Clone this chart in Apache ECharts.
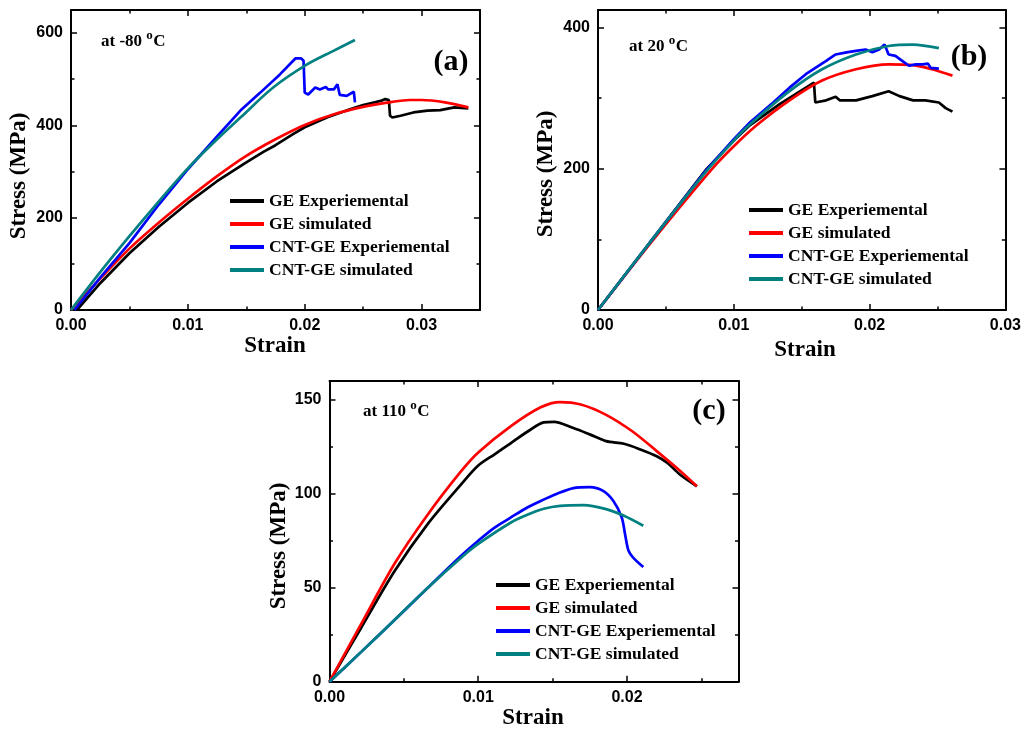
<!DOCTYPE html>
<html>
<head>
<meta charset="utf-8">
<title>Stress-strain curves</title>
<script src="https://cdn.jsdelivr.net/npm/echarts@6.0.0/dist/echarts.min.js"></script>
<style>
html, body { margin: 0; padding: 0; background: #fff; }
#main { width: 1024px; height: 731px; }
</style>
</head>
<body>
<div id="main"></div>
<script>
var names = ['GE Experiemental', 'GE simulated', 'CNT-GE Experiemental', 'CNT-GE simulated'];
var colors = ['#000000', '#ff0000', '#0000ff', '#008080'];

// (a) at -80 oC  -- [strain, stress (MPa)]
var aGeExp = [[0.0005, 0], [0.0025, 58], [0.005, 123], [0.0075, 180], [0.01, 232], [0.0125, 279], [0.015, 320],
    [0.0165, 343], [0.0175, 357], [0.019, 381], [0.02, 396], [0.022, 418], [0.024, 436], [0.025, 444],
    [0.026, 450], [0.0265, 453], [0.0269, 457], [0.0272, 455], [0.0273, 421], [0.0275, 417], [0.0282, 421],
    [0.0293, 428], [0.0305, 432], [0.0316, 433], [0.0328, 439], [0.034, 437]];
var aGeSim = [[0, 0], [0.0025, 68], [0.005, 133], [0.0075, 189], [0.01, 241], [0.0125, 290], [0.015, 334],
    [0.0175, 370], [0.02, 401], [0.0225, 424], [0.025, 440], [0.0275, 451], [0.029, 455], [0.03, 455],
    [0.032, 450], [0.034, 439]];
var aCntExp = [[0.0003, 0], [0.0025, 70], [0.005, 145], [0.0075, 228], [0.01, 305], [0.0125, 376], [0.0145, 432],
    [0.0162, 471], [0.0179, 511], [0.0192, 545], [0.0197, 545], [0.0199, 540], [0.02, 471], [0.0203, 467],
    [0.0209, 482], [0.0213, 478], [0.0218, 483], [0.022, 478], [0.0225, 478], [0.0228, 489], [0.023, 466],
    [0.0236, 464], [0.0242, 473], [0.0243, 450]];
var aCntSim = [[0, 0], [0.0025, 82], [0.005, 160], [0.0075, 235], [0.01, 307], [0.0125, 370], [0.0145, 417],
    [0.0173, 482], [0.0202, 532], [0.0225, 562], [0.0243, 585]];

// (b) at 20 oC
var bGeExp = [[0, 0], [0.004, 100], [0.008, 200], [0.01, 240], [0.0112, 262], [0.0134, 292], [0.0159, 322],
    [0.016, 294], [0.0168, 297], [0.0175, 302], [0.0178, 297], [0.019, 297], [0.0202, 303], [0.0214, 310],
    [0.0222, 303], [0.0232, 297], [0.0241, 297], [0.0251, 294], [0.0256, 286], [0.0261, 281]];
var bGeSim = [[0, 0], [0.004, 98], [0.0084, 200], [0.01, 232], [0.0117, 262], [0.0141, 297], [0.0165, 325],
    [0.019, 341], [0.0214, 348], [0.0232, 347], [0.0246, 341], [0.0261, 332]];
var bCntExp = [[0, 0], [0.004, 100], [0.008, 199], [0.01, 242], [0.0112, 266], [0.0129, 294], [0.0141, 315],
    [0.0153, 334], [0.0168, 353], [0.0175, 362], [0.0183, 365], [0.019, 367], [0.0197, 369], [0.0202, 365],
    [0.0207, 369], [0.0211, 376], [0.0214, 362], [0.0219, 360], [0.0224, 353], [0.0229, 346], [0.0234, 348],
    [0.0239, 348], [0.0243, 349], [0.0245, 343], [0.0251, 342]];
var bCntSim = [[0, 0], [0.004, 100], [0.008, 197], [0.01, 240], [0.0112, 263], [0.0141, 310], [0.0165, 341],
    [0.019, 362], [0.0214, 374], [0.0232, 376], [0.0251, 371]];

// (c) at 110 oC
var cGeExp = [[0, 0], [0.00215, 29], [0.00439, 59], [0.00661, 84], [0.00885, 105], [0.01, 115], [0.0111, 121],
    [0.0122, 127], [0.0133, 133], [0.0144, 138], [0.0151, 138.3], [0.0164, 135], [0.0175, 131.6], [0.0186, 128],
    [0.0198, 126.6], [0.0209, 123.6], [0.022, 120], [0.0227, 116.5], [0.0236, 110], [0.0247, 104]];
var cGeSim = [[0, 0], [0.00215, 31], [0.00439, 63], [0.00661, 89], [0.00885, 112], [0.01, 122], [0.0122, 136],
    [0.0142, 146], [0.0155, 148.8], [0.0169, 147.5], [0.0186, 142], [0.0204, 133], [0.022, 122.7],
    [0.0236, 112], [0.0247, 104]];
var cCntExp = [[0, 0], [0.00215, 16], [0.00439, 33], [0.00661, 50], [0.00885, 67], [0.01, 75], [0.0111, 82],
    [0.0122, 87.4], [0.0133, 92.7], [0.0142, 96.2], [0.0153, 100], [0.0164, 103], [0.0175, 103.5],
    [0.0184, 101.5], [0.0191, 96], [0.01965, 87.4], [0.01987, 78.6], [0.0201, 69.8], [0.0204, 66.2], [0.0211, 61]];
var cCntSim = [[0, 0], [0.00215, 16], [0.00439, 33], [0.00661, 50], [0.00885, 66], [0.01, 73.3], [0.0122, 84.7],
    [0.0133, 88.8], [0.0144, 92], [0.0155, 93.6], [0.0171, 94], [0.0186, 91.8], [0.0198, 88.3], [0.0211, 83]];

var panelData = [
    [aGeExp, aGeSim, aCntExp, aCntSim],
    [bGeExp, bGeSim, bCntExp, bCntSim],
    [cGeExp, cGeSim, cCntExp, cCntSim]
];

// axis ranges
var xMax = [0.035, 0.03, 0.0275];
var yMax = [650, 425, 160];
var yMajor = [200, 200, 50];
var yMinor = [100, 100, 25];
var xShowMax = [false, true, false];
// experimental curves at 110 oC are smooth, the others are jagged
var expSmooth = [false, false, 0.3];

var grids = [
    { left: 71, top: 10, width: 409, height: 300 },
    { left: 598, top: 10, width: 409, height: 300 },
    { left: 329.5, top: 381, width: 409, height: 300.7 }
];

var tickFont = { color: '#000', fontFamily: 'Liberation Sans', fontWeight: 'bold', fontSize: 16 };
var serif = '"Liberation Serif", "Times New Roman", serif';

function axisSet(dim, gi, max, major, minor, showMax) {
    var sides = dim === 'x' ? ['bottom', 'top'] : ['left', 'right'];
    var list = [];
    sides.forEach(function (pos, s) {
        [major, minor].forEach(function (step, m) {
            var lab = { show: false };
            if (s === 0 && m === 0) {
                lab = Object.assign({ show: true, margin: 8, showMaxLabel: showMax, showMinLabel: true }, tickFont);
                if (dim === 'x') lab.formatter = function (v) { return v.toFixed(2); };
            }
            list.push({
                type: 'value', gridIndex: gi, position: pos, min: 0, max: max, interval: step,
                splitLine: { show: false },
                axisLine: { show: m === 0, onZero: false, lineStyle: { color: '#000', width: 2 } },
                axisTick: { show: true, inside: true, length: m === 0 ? 6 : 3.5, lineStyle: { color: '#000', width: 1.5 } },
                axisLabel: lab
            });
        });
    });
    return list;
}

var xAxis = [], yAxis = [], series = [], legend = [];
for (var p = 0; p < 3; p++) {
    xAxis = xAxis.concat(axisSet('x', p, xMax[p], 0.01, 0.005, xShowMax[p]));
    yAxis = yAxis.concat(axisSet('y', p, yMax[p], yMajor[p], yMinor[p], false));
    for (var k = 0; k < 4; k++) {
        series.push({
            type: 'line', name: names[k], xAxisIndex: p * 4, yAxisIndex: p * 4,
            data: panelData[p][k], symbol: 'none', smooth: k % 2 === 1 ? 0.3 : expSmooth[p],
            lineStyle: { color: colors[k], width: 2.7 }, itemStyle: { color: colors[k] }
        });
    }
}

var legendPos = [[230, 189.5], [749, 198.5], [496, 573.5]];
legendPos.forEach(function (lp) {
    legend.push({
        left: lp[0], top: lp[1], orient: 'vertical', padding: 0, itemGap: 0,
        itemWidth: 34, itemHeight: 4, icon: 'rect', selectedMode: false, data: names,
        textStyle: { fontFamily: serif, fontWeight: 'bold', fontSize: 17.5, color: '#000', lineHeight: 23 }
    });
});

function txt(x, y, text, size, rot, align) {
    return {
        type: 'text', x: x, y: y, rotation: rot || 0, silent: true,
        style: { text: text, fill: '#000', fontFamily: serif, fontWeight: 'bold', fontSize: size,
                 align: align || 'center', verticalAlign: 'middle' }
    };
}

// measure text so the raised "o" sits right after the number
var measureCtx = document.createElement('canvas').getContext('2d');
function textWidth(str, size) {
    measureCtx.font = 'bold ' + size + 'px "Liberation Serif"';
    return measureCtx.measureText(str).width;
}
function tempNote(x, y, pre) {
    var w = textWidth(pre, 17);
    var wo = textWidth('o', 13);
    return [
        txt(x, y, pre, 17, 0, 'left'),
        txt(x + w, y - 6, 'o', 13, 0, 'left'),
        txt(x + w + wo + 0.5, y, 'C', 17, 0, 'left')
    ];
}

var graphic = [
    txt(19, 176, 'Stress (MPa)', 23, Math.PI / 2),
    txt(546, 174, 'Stress (MPa)', 23, Math.PI / 2),
    txt(279, 546, 'Stress (MPa)', 23, Math.PI / 2),
    txt(275, 346, 'Strain', 23),
    txt(805, 350, 'Strain', 23),
    txt(533, 718, 'Strain', 23),
    txt(451, 62, '(a)', 30),
    txt(969, 57, '(b)', 30),
    txt(709, 411, '(c)', 30)
].concat(
    tempNote(101, 42, 'at -80 '),
    tempNote(629, 47, 'at 20 '),
    tempNote(363, 412, 'at 110 ')
);

var myChart = echarts.init(document.getElementById('main'));
myChart.setOption({
    animation: false,
    backgroundColor: '#fff',
    grid: grids,
    xAxis: xAxis,
    yAxis: yAxis,
    legend: legend,
    series: series,
    graphic: graphic
});
</script>
</body>
</html>
